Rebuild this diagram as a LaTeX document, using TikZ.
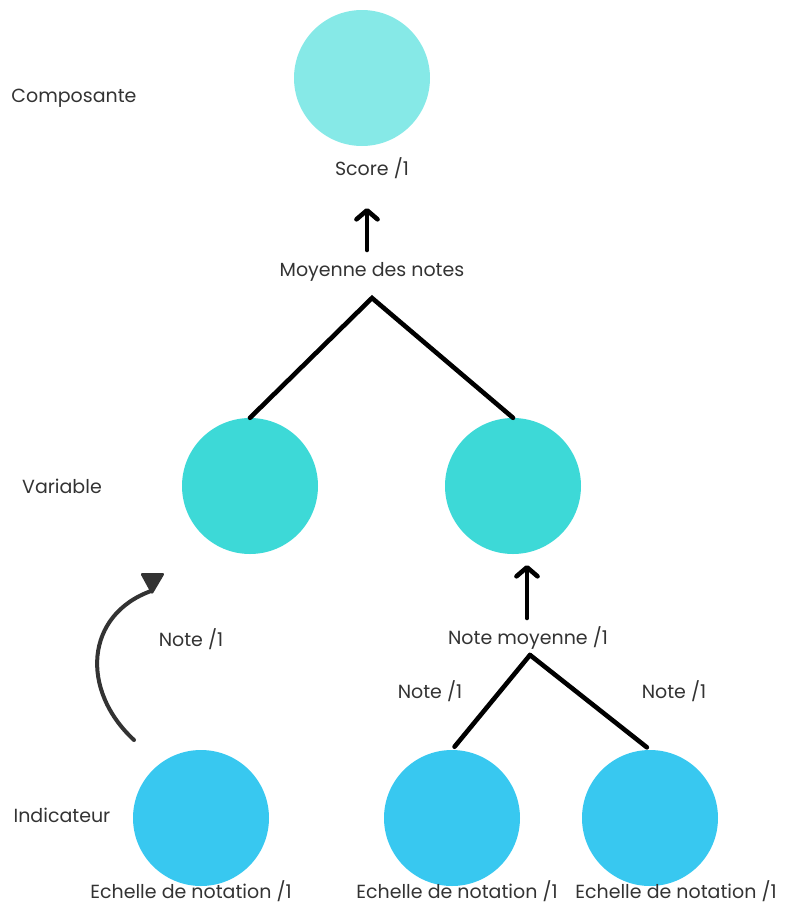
\documentclass[tikz,border=0pt]{standalone}
\usepackage{fontspec}
\setmainfont{Poppins}
\usetikzlibrary{arrows.meta}
\definecolor{txt}{HTML}{333333}
\definecolor{cTop}{HTML}{86E9E7}
\definecolor{cVar}{HTML}{3DD9D7}
\definecolor{cInd}{HTML}{38C8F0}
\begin{document}
\begin{tikzpicture}[x=1pt,y=-1pt,
  lbl/.style={text=txt, font=\fontsize{19}{22}\selectfont, inner sep=1pt},
  circ/.style={circle, minimum size=136pt, inner sep=0pt, draw=none},
  ln/.style={line width=4.6pt, line cap=round, black},
  arr/.style={ln, -{Straight Barb[length=9pt,width=21pt,line cap=round,line join=round]}}]
\useasboundingbox (0,0) rectangle (790,906);
% circles
\node[circ, fill=cTop] (score) at (362,78) {};
\node[circ, fill=cVar] (v1) at (250,486) {};
\node[circ, fill=cVar] (v2) at (513,486) {};
\node[circ, fill=cInd] (i1) at (201,818) {};
\node[circ, fill=cInd] (i2) at (452,818) {};
\node[circ, fill=cInd] (i3) at (650,818) {};
% labels
\node[lbl] (comp) at (74,98) {Composante};
\node[lbl] (var) at (62,486) {Variable};
\node[lbl] (ind) at (62,815) {Indicateur};
\node[lbl] (scoret) at (372,168) {Score /1};
\node[lbl] (moy) at (372,272) {Moyenne des notes};
\node[lbl] (note1) at (191,639) {Note /1};
\node[lbl] (nmoy) at (528,638) {Note moyenne /1};
\node[lbl] (note2) at (430,691) {Note /1};
\node[lbl] (note3) at (674,691) {Note /1};
\node[lbl] (e1) at (191,891) {Echelle de notation /1};
\node[lbl] (e2) at (457,891) {Echelle de notation /1};
\node[lbl] (e3) at (676,891) {Echelle de notation /1};
% connector points
\coordinate (a1s) at (367,250);
\coordinate (a1e) at (367,208);
\coordinate (apex1) at (372,298);
\coordinate (a2s) at (527,618);
\coordinate (a2e) at (527,565);
\coordinate (apex2) at (530,655);
\coordinate (cs) at (134,740);
\coordinate (ce) at (151,591);
% connectors
\draw[arr] (a1s) -- (a1e);
\draw[ln] (v1.north) -- (apex1) -- (v2.north);
\draw[arr] (a2s) -- (a2e);
\draw[ln, shorten <=4pt] (i2.north) -- (apex2);
\draw[ln, shorten <=4pt] (i3.north) -- (apex2);
\draw[line width=4pt, txt, line cap=round] (cs) .. controls (80,690) and (85,615) .. (ce);
\fill[txt, rounded corners=2.5pt] (140,573) -- (165,573) -- (152,595) -- cycle;
\end{tikzpicture}
\end{document}
